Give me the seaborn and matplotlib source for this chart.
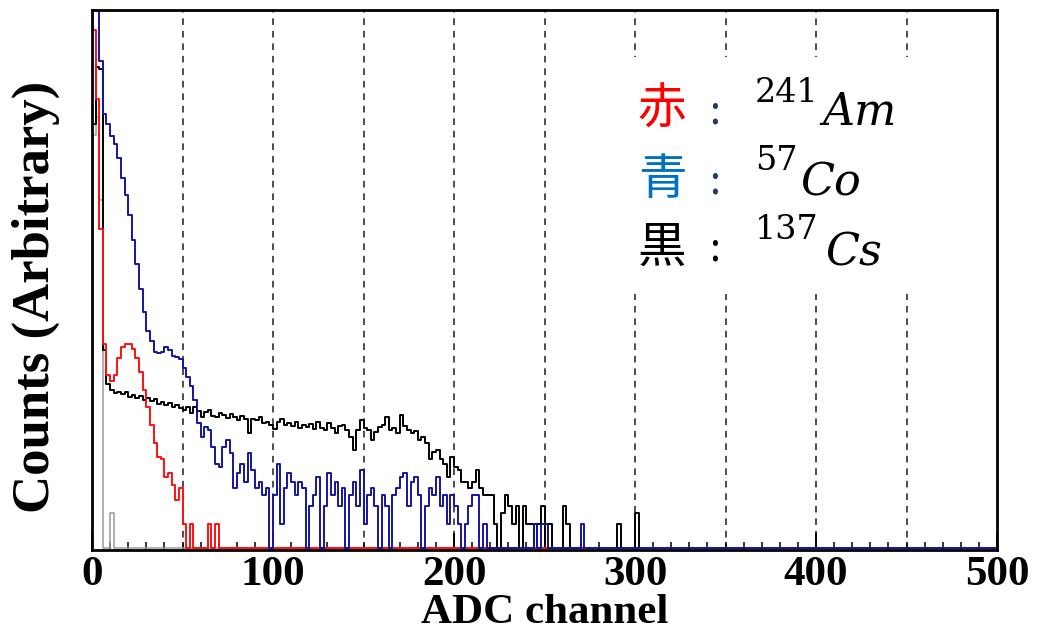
import numpy as np
import pandas as pd
import matplotlib
matplotlib.use("Agg")
import matplotlib.pyplot as plt
from matplotlib.ticker import MultipleLocator, NullLocator
from matplotlib.patches import Rectangle
import seaborn as sns

# ADC spectra, 2-channel bins starting at channel 0 (counts)
am241 = [1.7e8, 1.2e7, 8e4, 1000, 300, 240, 300, 580, 890, 1000,
         1000, 830, 580, 340, 170, 90, 45, 22, 13, 12,
         6, 7, 4.5, 2.5, 4, 1, 0, 1, 0, 0,
         0, 0, 1, 0, 1]

co57 = [5e8, 5e8, 5e7, 6.6e6, 4.5e6, 2.9e6, 2.1e6, 1.25e6, 5.8e5, 3e5,
        1.4e5, 5.4e4, 2.1e4, 8e3, 3.4e3, 1.6e3, 1.1e3, 740, 710, 740,
        890, 800, 630, 600, 560, 400, 280, 200, 117, 48,
        28, 41, 37, 19, 10, 9, 19, 25, 15, 4,
        7, 10, 5, 15, 8, 4, 5, 3, 4, 0,
        3, 10, 1, 4, 7, 5, 3, 5, 4, 0,
        2, 3, 6, 0, 2, 7, 3, 5, 2, 4,
        0, 3, 5, 2, 8, 1, 3, 4, 2, 0,
        3, 2, 0, 3, 4, 6, 7, 2, 5, 6,
        3, 0, 2, 4, 3, 6, 2, 3, 1, 3,
        2, 1, 0, 1, 2, 3, 3, 0, 1, 0,
        0, 0, 0, 0, 0, 0, 0, 0, 0, 0,
        0, 0, 1, 0, 1, 1, 0, 0, 0, 0,
        0, 0, 0, 0, 0, 1]

cs137 = [4.6e6, 4e7, 3.7e7, 800, 210, 170, 150, 160, 145, 155,
         130, 140, 125, 135, 115, 125, 110, 118, 100, 108,
         95, 102, 88, 96, 85, 78, 88, 70, 90, 75,
         60, 72, 80, 62, 60, 70, 65, 58, 68, 60,
         54, 62, 56, 33, 55, 54, 60, 48, 50, 45,
         38, 50, 55, 44, 48, 42, 50, 40, 44, 41,
         46, 38, 50, 40, 37, 48, 40, 33, 42, 45,
         36, 28, 17, 37, 54, 40, 37, 25, 34, 41,
         45, 60, 37, 40, 33, 65, 42, 37, 33, 35,
         25, 28, 22, 12, 16, 17, 12, 10, 6, 13,
         9, 8, 5, 5, 4, 5, 8, 4, 3, 3,
         3, 1, 0, 1.5, 3, 2, 1, 2, 0, 2,
         1, 1, 0, 1, 2, 0, 1, 0, 0, 0,
         2, 1, 0, 0, 0, 0, 0, 0, 0, 0,
         0, 0, 0, 0, 0, 1, 0, 0, 0, 0,
         1.5]

pedestal = [3e6, 6e6, 2.5e5, 0, 0, 1.5]

legend_kanji = ["赤", "青", "黒"]
mass_numbers = ["241", "57", "137"]
symbols = ["Am", "Co", "Cs"]

BIN_WIDTH = 2
X_MAX = 500
Y_MIN, Y_MAX = 0.368, 3.6e8
FLOOR = Y_MIN * 1.1   # where empty bins are drawn, just above the frame

W, H = 1037, 630


def fx(px):
    return px / W


def fy(py):
    return 1 - py / H


def padded(vals):
    out = np.zeros(X_MAX // BIN_WIDTH)
    out[:len(vals)] = vals
    return out


sns.set_theme(style="white")
plt.rcParams["font.family"] = ["Liberation Serif", "DejaVu Sans"]
plt.rcParams["font.weight"] = "bold"
plt.rcParams["text.color"] = "black"
plt.rcParams["axes.labelcolor"] = "black"
plt.rcParams["xtick.color"] = "black"

fig = plt.figure(figsize=(W / 100, H / 100), dpi=100)
ax = fig.add_axes([fx(92), fy(550), (997 - 92) / W, 540 / H])
ax.set_yscale("log")

edges = np.arange(0, X_MAX + BIN_WIDTH, BIN_WIDTH)

series = [
    (pedestal, "#9a9a9a", 1.1),
    (cs137, "#000000", 1.4),
    (am241, "#ff1010", 1.4),
    (co57, "#1414a0", 1.4),
]
for vals, color, lw in series:
    # empty bins sit on the bottom of the frame, as on a log-scale ROOT plot
    w = np.clip(padded(vals), FLOOR, Y_MAX)
    df = pd.DataFrame({"ch": edges, "counts": np.append(w, w[-1])})
    sns.lineplot(data=df, x="ch", y="counts", drawstyle="steps-post",
                 estimator=None, color=color, linewidth=lw, ax=ax)

# dashed vertical grid
for g in range(50, X_MAX, 50):
    ax.axvline(g, color="#303030", lw=1.2, ls=(0, (4, 3.5)), zorder=0.5)

ax.set_xlim(0, X_MAX)
ax.set_ylim(Y_MIN, Y_MAX)

ax.xaxis.set_major_locator(MultipleLocator(100))
ax.xaxis.set_minor_locator(MultipleLocator(10))
ax.tick_params(axis="x", which="major", direction="in", length=12, width=1.4,
               pad=4, labelsize=31, bottom=True, top=False)
ax.tick_params(axis="x", which="minor", direction="in", length=6, width=1.1,
               bottom=True, top=False)
ax.yaxis.set_major_locator(NullLocator())
ax.yaxis.set_minor_locator(NullLocator())
ax.tick_params(axis="y", which="both", left=False, labelleft=False)
for lbl in ax.get_xticklabels():
    lbl.set_fontweight("bold")

for sp in ax.spines.values():
    sp.set_linewidth(2.0)
    sp.set_color("black")

ax.set_ylabel("Counts (Arbitrary)", fontsize=38, fontweight="bold")
ax.yaxis.label.set_va("center")
ax.yaxis.set_label_coords((36 - 92) / 905, (550 - 297) / 540)

# x label sits right under the tick labels, touching the bottom edge
ax.set_xlabel("ADC channel", fontsize=31, fontweight="bold")
fig.canvas.draw()
tick_bottom = min(t.get_window_extent().y0 for t in ax.get_xticklabels()
                  if t.get_text())
ax.xaxis.label.set_va("top")
ax.xaxis.set_label_coords(0.5, ax.transAxes.inverted().transform((0, tick_bottom))[1])

# white panel behind the key
fig.add_artist(Rectangle((fx(626), fy(294)), (914 - 626) / W, (294 - 57) / H,
                         transform=fig.transFigure, facecolor="white",
                         edgecolor="none", zorder=2))

kanji_colors = ["#ff0000", "#0070c0", "#000000"]
colon_colors = ["#1f3864", "#1f3864", "#000000"]
row_y = [110, 180, 248]
sup_y = [93, 161, 230]
base_y = [125, 196, 265]
sym_x = [822, 800, 825]
for i in range(3):
    fig.text(fx(662), fy(row_y[i]), legend_kanji[i], color=kanji_colors[i],
             fontsize=35, family=["Noto Sans CJK JP"], fontweight="normal",
             ha="center", va="center", zorder=3)
    fig.text(fx(715), fy(row_y[i] + 2), ":", color=colon_colors[i],
             fontsize=28, family=["Noto Sans CJK JP"], fontweight="normal",
             ha="center", va="center", zorder=3)
    fig.text(fx(755), fy(sup_y[i]), mass_numbers[i], color="black",
             fontsize=24, family=["DejaVu Serif"], fontweight="normal",
             ha="left", va="center", zorder=3)
    fig.text(fx(sym_x[i]), fy(base_y[i]), symbols[i], color="black",
             fontsize=32, family=["DejaVu Serif"], style="italic",
             fontweight="normal", ha="left", va="baseline", zorder=3)

fig.savefig("out.png", dpi=100)
